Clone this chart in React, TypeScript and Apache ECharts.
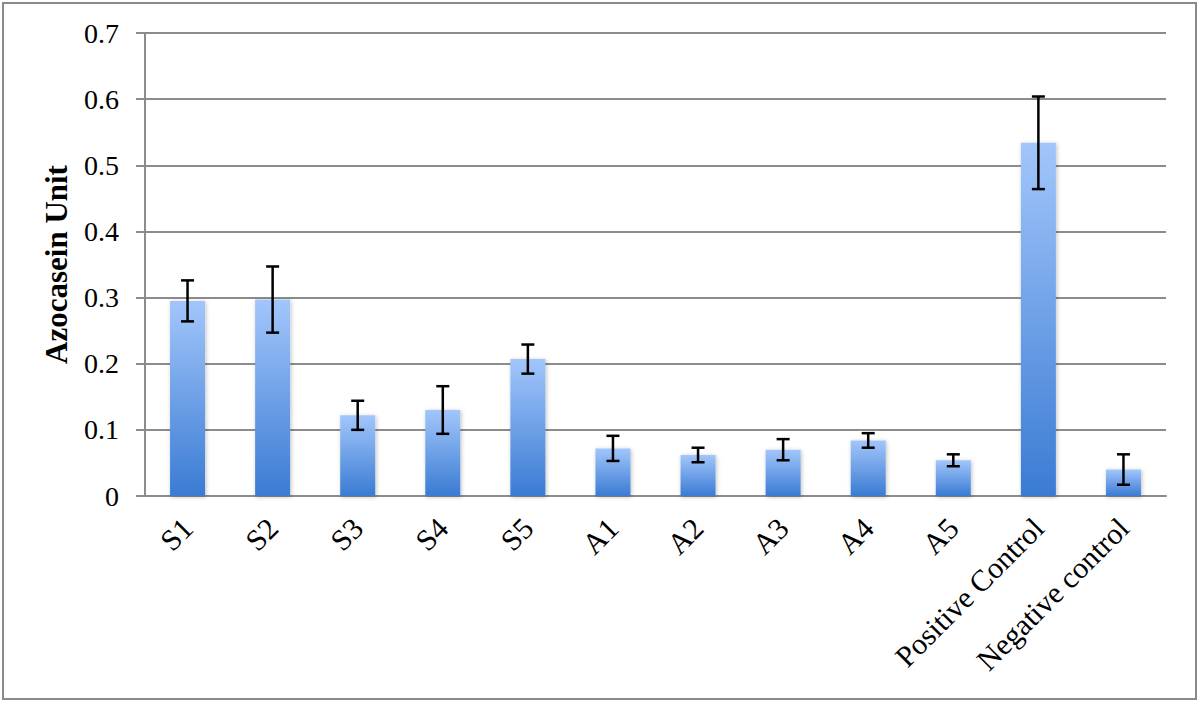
import React, { useEffect, useRef } from "react";
import * as echarts from "echarts";

const categories = ["S1", "S2", "S3", "S4", "S5", "A1", "A2", "A3", "A4", "A5", "Positive Control", "Negative control"];
const values = [0.295, 0.297, 0.122, 0.13, 0.207, 0.072, 0.062, 0.07, 0.084, 0.054, 0.534, 0.04];
const errors = [0.031, 0.05, 0.022, 0.036, 0.022, 0.019, 0.011, 0.016, 0.011, 0.009, 0.07, 0.023];
const yTicks = [0, 0.1, 0.2, 0.3, 0.4, 0.5, 0.6, 0.7];
const yTitle = "Azocasein Unit";

export default function App() {
  const ref = useRef<HTMLDivElement>(null);
  useEffect(() => {
    if (!ref.current) return;
    const chart = echarts.init(ref.current, null, { renderer: "svg" });
    const errData = values.map((v, i) => [i, v - errors[i], v + errors[i]]);
    chart.setOption({
      animation: false,
      backgroundColor: "#ffffff",
      graphic: [
        {
          type: "rect",
          shape: { x: 3, y: 3, width: 1193, height: 696 },
          style: { fill: "none", stroke: "#8a8a8a", lineWidth: 2 },
          silent: true,
        },
      ],
      grid: { left: 145, right: 34, top: 33, bottom: 207, containLabel: false },
      xAxis: {
        type: "category",
        data: categories,
        axisLine: { show: true, lineStyle: { color: "#8c8c8c", width: 2 } },
        axisTick: { show: false },
        axisLabel: {
          rotate: 45,
          interval: 0,
          margin: 27,
          color: "#000",
          fontFamily: "Liberation Serif",
          fontSize: 30,
        },
      },
      yAxis: {
        type: "value",
        min: yTicks[0],
        max: yTicks[yTicks.length - 1],
        interval: 0.1,
        name: yTitle,
        nameLocation: "middle",
        nameGap: 73,
        nameRotate: 90,
        nameTextStyle: { fontFamily: "Liberation Serif", fontWeight: "bold", fontSize: 31, color: "#000" },
        axisLine: { show: true, lineStyle: { color: "#8c8c8c", width: 2 } },
        axisTick: { show: true, length: 9, lineStyle: { color: "#8c8c8c", width: 2 } },
        splitLine: { show: true, lineStyle: { color: "#8c8c8c", width: 2 } },
        axisLabel: {
          margin: 26,
          color: "#000",
          fontFamily: "Liberation Serif",
          fontSize: 28,
          formatter: (v: number) => (v === 0 ? "0" : v.toFixed(1)),
        },
      },
      series: [
        {
          type: "bar",
          data: values,
          barWidth: 35,
          itemStyle: {
            color: new echarts.graphic.LinearGradient(0, 0, 0, 1, [
              { offset: 0, color: "#a2c6fb" },
              { offset: 1, color: "#3a7bd3" },
            ]),
            shadowBlur: 4,
            shadowColor: "rgba(0,0,0,0.25)",
            shadowOffsetX: 1,
            shadowOffsetY: 1,
          },
        },
        {
          type: "custom",
          data: errData,
          encode: { x: 0, y: [1, 2] },
          z: 10,
          renderItem: (params: any, api: any) => {
            const x = api.value(0);
            const lo = api.coord([x, api.value(1)]);
            const hi = api.coord([x, api.value(2)]);
            const hw = 6.5;
            const style = { stroke: "#000", lineWidth: 2.5 };
            return {
              type: "group",
              children: [
                { type: "line", shape: { x1: lo[0], y1: lo[1], x2: hi[0], y2: hi[1] }, style },
                { type: "line", shape: { x1: lo[0] - hw, y1: lo[1], x2: lo[0] + hw, y2: lo[1] }, style },
                { type: "line", shape: { x1: hi[0] - hw, y1: hi[1], x2: hi[0] + hw, y2: hi[1] }, style },
              ],
            };
          },
        },
      ],
    });
    return () => chart.dispose();
  }, []);
  return <div ref={ref} style={{ position: "fixed", left: 0, top: 0, width: 1200, height: 703 }} />;
}
